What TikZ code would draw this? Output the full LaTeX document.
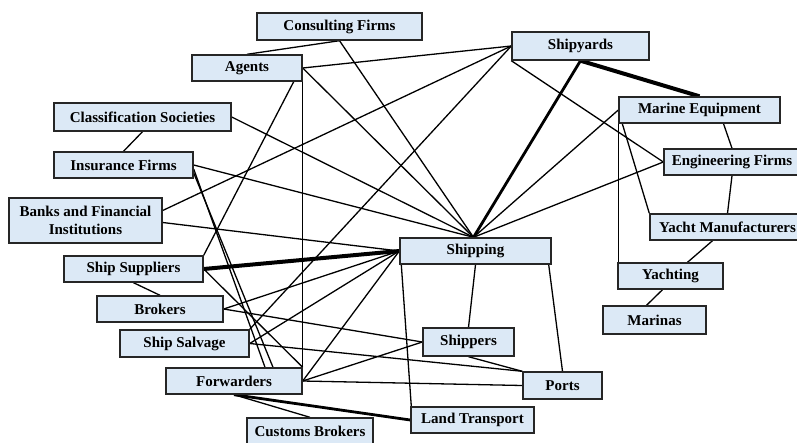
\documentclass[tikz,border=0pt]{standalone}
\usepackage{fontspec}
\setmainfont{Liberation Serif}
\usetikzlibrary{backgrounds}
\definecolor{boxfill}{HTML}{DCE9F6}
\definecolor{boxline}{HTML}{262626}
\begin{document}
\begin{tikzpicture}[x=1pt,y=-1pt,
  box/.style={draw=boxline, line width=1.4pt, fill=boxfill, inner sep=0pt, align=center,
    font=\fontsize{15}{18}\selectfont\bfseries},
  link/.style={line width=1.3pt, black},
  heavy/.style={line width=4pt, black},
  medium/.style={line width=2.8pt, black}]
\useasboundingbox (0,0) rectangle (797,442);
% nodes
\node[box, minimum width=165pt, minimum height=27pt] (CF) at (339.5,26.5) {Consulting Firms};
\node[box, minimum width=110pt, minimum height=26pt] (AG) at (247,68) {Agents};
\node[box, minimum width=177pt, minimum height=28pt] (CS) at (142.5,117) {Classification Societies};
\node[box, minimum width=139pt, minimum height=26pt] (IF) at (123.5,165) {Insurance Firms};
\node[box, minimum width=153pt, minimum height=45pt] (BF) at (85.5,220.5) {Banks and Financial\\Institutions};
\node[box, minimum width=139pt, minimum height=26pt] (SS) at (133.5,269) {Ship Suppliers};
\node[box, minimum width=126pt, minimum height=26pt] (BR) at (160,309) {Brokers};
\node[box, minimum width=129pt, minimum height=27pt] (SV) at (184.5,343.5) {Ship Salvage};
\node[box, minimum width=136pt, minimum height=26pt] (FW) at (234,381) {Forwarders};
\node[box, minimum width=126pt, minimum height=26pt] (CB) at (310,431) {Customs Brokers};
\node[box, minimum width=151pt, minimum height=26pt] (SH) at (475.5,251) {Shipping};
\node[box, minimum width=91pt, minimum height=28pt] (SP) at (468.5,342) {Shippers};
\node[box, minimum width=79pt, minimum height=27pt] (PO) at (562.5,385.5) {Ports};
\node[box, minimum width=123pt, minimum height=26pt] (LT) at (472.5,420) {Land Transport};
\node[box, minimum width=137pt, minimum height=28pt] (SY) at (580.5,46) {Shipyards};
\node[box, minimum width=161pt, minimum height=26pt] (ME) at (699.5,110) {Marine Equipment};
\node[box, minimum width=136pt, minimum height=26pt] (EF) at (732,162) {Engineering Firms};
\node[box, minimum width=155pt, minimum height=26pt] (YM) at (727.5,227) {Yacht Manufacturers};
\node[box, minimum width=105pt, minimum height=26pt] (YA) at (670.5,276) {Yachting};
\node[box, minimum width=103pt, minimum height=28pt] (MA) at (654.5,320) {Marinas};
\coordinate (fan) at ([xshift=-2pt]SH.north);
% connectors
\begin{pgfonlayer}{background}
\draw[link] (CF.south) -- (AG.north);
\draw[link] (CF.south) -- (fan);
\draw[link] (AG.east) -- (SY.west);
\draw[link] (AG.east) -- (fan);
\draw[link] ([xshift=-9pt]AG.south east) -- (SS.north east);
\draw[link] (AG.south east) -- (FW.north east);
\draw[link] (CS.south) -- (IF.north);
\draw[link] (CS.east) -- (fan);
\draw[link] (IF.east) -- (fan);
\draw[link] ([yshift=-4pt]IF.east) -- ([xshift=31pt]FW.north);
\draw[link] ([yshift=-8pt]IF.east) -- ([xshift=39pt]FW.north);
\draw[link] ([yshift=10pt]BF.east) -- (SY.west);
\draw[link] ([yshift=-2pt]BF.east) -- (SH.west);
\draw[heavy] (SS.east) -- (SH.west);
\draw[link] (SS.east) -- (FW.north east);
\draw[link] (SS.south) -- (BR.north);
\draw[link] (BR.east) -- (SH.west);
\draw[link] (BR.east) -- (SP.west);
\draw[link] (SV.east) -- (SH.west);
\draw[link] (SV.east) -- (PO.north west);
\draw[link] (SV.north east) -- (SY.west);
\draw[link] (FW.east) -- (SH.west);
\draw[link] (FW.east) -- (SP.west);
\draw[link] (FW.east) -- (PO.west);
\draw[link] (FW.south) -- (CB.north);
\draw[medium] (FW.south) -- (LT.west);
\draw[link] (SH.south) -- (SP.north);
\draw[link] ([xshift=-3pt]SH.south east) -- (PO.north);
\draw[link] ([xshift=2pt]SH.south west) -- ([xshift=1pt]LT.north west);
\draw[link] (SP.south) -- (PO.north west);
\draw[medium] (SY.south) -- (fan);
\draw[heavy] (SY.south) -- (ME.north);
\draw[link] (SY.south west) -- (EF.west);
\draw[link] (ME.west) -- (fan);
\draw[link] ([xshift=24pt]ME.south) -- (EF.north);
\draw[link] (EF.south) -- (YM.north);
\draw[link] (EF.west) -- (fan);
\draw[link] ([xshift=4pt]ME.south west) -- (YM.north west);
\draw[link] (ME.south west) -- ([xshift=1pt]YA.north west);
\draw[link] ([xshift=-15pt]YM.south) -- ([xshift=17pt]YA.north);
\draw[link] ([xshift=-8pt]YA.south) -- ([xshift=-8pt]MA.north);
\end{pgfonlayer}
\end{tikzpicture}
\end{document}
